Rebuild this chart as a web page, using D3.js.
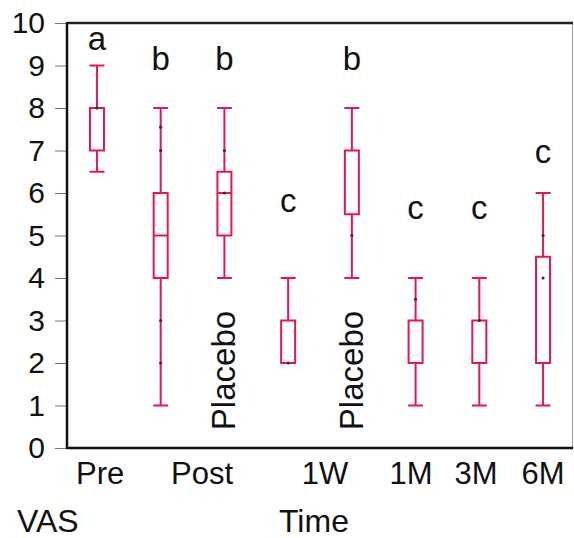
<!DOCTYPE html>
<html>
<head>
<meta charset="utf-8">
<script src="https://cdn.jsdelivr.net/npm/d3@7"></script>
<style>
  body { margin: 0; background: #fff; }
  text { font-family: "Liberation Sans", Arial, sans-serif; fill: #111; }
</style>
</head>
<body>
<div id="chart"></div>
<script>
// groups along the time axis (placebo groups sit next to their treated group)
const groups = ['Pre', 'Post', 'PostPlacebo', '1W', '1WPlacebo', '1M', '3M', '6M']
const mins    = [6.5, 1, 4, 2, 4, 1, 1, 1]
const q1s     = [7,   4, 5, 2, 5.5, 2, 2, 2]
const medians = [null, 5, 6, null, null, null, null, null]
const q3s     = [8,   6, 6.5, 3, 7, 3, 3, 4.5]
const maxs    = [9,   8, 8, 4, 8, 4, 4, 6]
// small dark points drawn on the whiskers / boxes
const points = [
  { g: 'Pre', v: 8 },
  { g: 'Post', v: 7.55 }, { g: 'Post', v: 7 }, { g: 'Post', v: 3 }, { g: 'Post', v: 2 },
  { g: 'PostPlacebo', v: 7 }, { g: 'PostPlacebo', v: 6 },
  { g: '1W', v: 2 },
  { g: '1WPlacebo', v: 5 },
  { g: '1M', v: 3.5 },
  { g: '3M', v: 3 },
  { g: '6M', v: 5 }, { g: '6M', v: 4 }
]
// significance letters and the value where each is written
const letters   = ['a', 'b', 'b', 'c', 'b', 'c', 'c', 'c']
const letterVal = [9.36, 8.9, 8.9, 5.55, 8.9, 5.4, 5.4, 6.7]
const placebo   = ['PostPlacebo', '1WPlacebo']
const xLabels   = [
  { g: 'Pre', text: 'Pre', shift: 0.05 },
  { g: 'Post', text: 'Post', shift: 0.65 },
  { g: '1W', text: '1W', shift: 0.58 },
  { g: '1M', text: '1M', shift: -0.07 },
  { g: '3M', text: '3M', shift: -0.05 },
  { g: '6M', text: '6M', shift: 0 }
]
const yTicks = [0, 1, 2, 3, 4, 5, 6, 7, 8, 9, 10]

const width = 574
const height = 538
const margin = { top: 23, right: 1, bottom: 90, left: 67 }
const color = '#e5174f'

const svg = d3.select('#chart').append('svg')
    .attr('width', width).attr('height', height)

const x = d3.scalePoint()
    .domain(groups)
    .range([margin.left, width - margin.right])
    .padding(0.47)

const y = d3.scaleLinear()
    .domain([0, 10])
    .range([height - margin.bottom, margin.top])

const boxW = 14
const capW = 15

// frame
svg.append('line')
    .attr('x1', width - margin.right - 0.5).attr('x2', width - margin.right - 0.5)
    .attr('y1', y(10)).attr('y2', y(0))
    .attr('stroke', '#999').attr('stroke-width', 1)
svg.append('line')
    .attr('x1', margin.left).attr('x2', width - margin.right)
    .attr('y1', y(10)).attr('y2', y(10))
    .attr('stroke', '#222').attr('stroke-width', 2.5)

// y axis
const yAxis = svg.append('g')
    .attr('transform', `translate(${margin.left},0)`)
    .call(d3.axisLeft(y).tickValues(yTicks).tickSize(12).tickPadding(10))
yAxis.select('.domain').remove()
yAxis.selectAll('.tick line').attr('stroke', '#777').attr('stroke-width', 1)
yAxis.selectAll('.tick text')
    .style('font-size', '30px')
    .style('font-family', '"Liberation Sans", Arial, sans-serif')
    .attr('fill', '#111')

svg.append('line')
    .attr('x1', margin.left).attr('x2', margin.left)
    .attr('y1', y(10) - 1).attr('y2', y(0) + 1)
    .attr('stroke', '#111').attr('stroke-width', 2.5)
svg.append('line')
    .attr('x1', margin.left).attr('x2', width - margin.right)
    .attr('y1', y(0)).attr('y2', y(0))
    .attr('stroke', '#111').attr('stroke-width', 2.5)

// boxes
const stats = groups.map((g, i) => ({
  g, min: mins[i], q1: q1s[i], med: medians[i], q3: q3s[i], max: maxs[i]
}))

const box = svg.append('g').selectAll('g')
    .data(stats)
    .join('g')
    .attr('transform', d => `translate(${x(d.g)},0)`)
    .attr('stroke', color)
    .attr('stroke-width', 2)
    .attr('fill', 'none')

box.append('line')
    .attr('y1', d => y(d.max)).attr('y2', d => y(d.q3))
box.append('line')
    .attr('y1', d => y(d.q1)).attr('y2', d => y(d.min))
box.filter(d => d.max > d.q3).append('line')
    .attr('x1', -capW / 2).attr('x2', capW / 2)
    .attr('y1', d => y(d.max)).attr('y2', d => y(d.max))
box.filter(d => d.min < d.q1).append('line')
    .attr('x1', -capW / 2).attr('x2', capW / 2)
    .attr('y1', d => y(d.min)).attr('y2', d => y(d.min))
box.append('rect')
    .attr('x', -boxW / 2)
    .attr('width', boxW)
    .attr('y', d => y(d.q3))
    .attr('height', d => y(d.q1) - y(d.q3))
box.filter(d => d.med != null).append('line')
    .attr('x1', -boxW / 2).attr('x2', boxW / 2)
    .attr('y1', d => y(d.med)).attr('y2', d => y(d.med))

// points
svg.append('g').selectAll('circle')
    .data(points)
    .join('circle')
    .attr('cx', d => x(d.g))
    .attr('cy', d => y(d.v))
    .attr('r', 1.6)
    .attr('fill', '#333')

// letters
svg.append('g').selectAll('text')
    .data(groups)
    .join('text')
    .attr('x', d => x(d))
    .attr('y', (d, i) => y(letterVal[i]))
    .attr('text-anchor', 'middle')
    .style('font-size', '33px')
    .text((d, i) => letters[i])

// placebo labels
svg.append('g').selectAll('text')
    .data(placebo)
    .join('text')
    .attr('transform', d => `translate(${x(d) + 11},${y(0.42)}) rotate(-90)`)
    .style('font-size', '33px')
    .text('Placebo')

// x labels
svg.append('g').selectAll('text')
    .data(xLabels)
    .join('text')
    .attr('x', d => x(d.g) + d.shift * x.step())
    .attr('y', y(0) + 36)
    .attr('text-anchor', 'middle')
    .style('font-size', '31px')
    .text(d => d.text)

svg.append('text')
    .attr('x', 17).attr('y', 532)
    .style('font-size', '32px')
    .text('VAS')
svg.append('text')
    .attr('x', 279).attr('y', 532)
    .style('font-size', '32px')
    .text('Time')
</script>
</body>
</html>
